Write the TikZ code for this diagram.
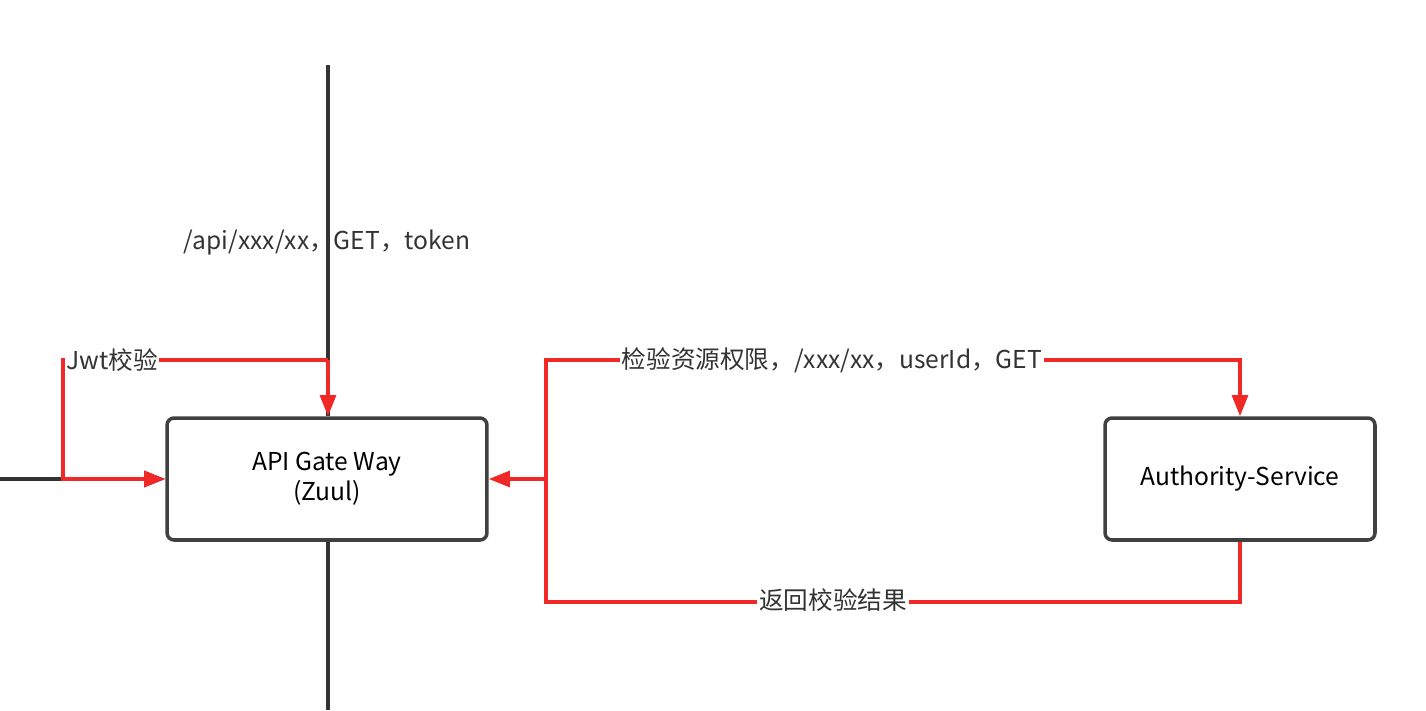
\documentclass[tikz,border=0pt]{standalone}
\usepackage{fontspec}
\setmainfont{Noto Sans CJK SC}
\usetikzlibrary{positioning, calc, arrows.meta}
\definecolor{linkred}{RGB}{240,40,40}

\begin{document}
\begin{tikzpicture}[x=0.02cm, y=-0.02cm
    , box/.style={draw=black!75, line width=2pt, rounded corners=4pt, fill=white, align=center, font=\fontsize{14}{17}\selectfont, inner sep=0pt}
    , red line/.style={draw=linkred, line width=2pt}
    , tip/.style={-{Triangle[length=12pt, width=9pt]}}
    , lbl/.style={fill=white, inner sep=1pt, font=\fontsize{14}{17}\selectfont, text=black!80}
    ]
    \useasboundingbox (0,0) rectangle (1426,710);

    \node[box, minimum width=6.4cm, minimum height=2.44cm] (gw) at (327,479) {API Gate Way\\(Zuul)};
    \node[box, minimum width=5.4cm, minimum height=2.44cm] (auth) at (1240,479) {Authority-Service};

    \coordinate (top) at (328,65);
    \coordinate (bottom) at (328,710);
    \coordinate (left) at (0,479);
    \coordinate (jwt) at (63,360);
    \coordinate (split) at (546,479);

    % incoming request
    \draw[black!80, line width=2pt] (top) -- (gw.north -| top);
    \draw[black!80, line width=2pt] (gw.south -| bottom) -- (bottom);
    \draw[black!80, line width=2pt, tip] (left) -- (gw.west);
    \node[lbl, fill=none] (req) at (327,243) {/api/xxx/xx，GET，token};

    % Jwt check
    \draw[red line, tip] (jwt -| top) -- (jwt) |- (gw.west);
    \node[lbl] (jwtl) at (112,360) {Jwt校验};
    \draw[red line, tip] (top |- jwt) -- (gw.north -| top);

    % ask authority service
    \draw[red line, tip] (split) |- (auth.north |- jwt) -- (auth.north);
    \node[lbl] (askl) at (832,360) {检验资源权限，/xxx/xx，userId，GET};

    % result back
    \draw[red line] (auth.south) -- ++(0,60) -| (split);
    \node[lbl] (resl) at (833,600) {返回校验结果};
    \draw[red line, tip] (split) -- (gw.east);
\end{tikzpicture}
\end{document}
